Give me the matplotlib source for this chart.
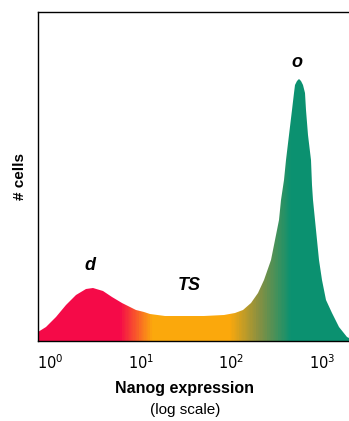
import matplotlib
matplotlib.use('Agg')
import matplotlib.pyplot as plt
import numpy as np
from matplotlib.colors import LinearSegmentedColormap

plt.rcParams['font.family'] = ['Liberation Sans', 'DejaVu Sans']

# density curve: log10(Nanog expression) vs # cells (arbitrary units)
log_expr = [-0.132, -0.044, 0.066, 0.176, 0.286, 0.396, 0.469, 0.579, 0.689, 0.799,
            0.945, 1.036, 1.099, 1.264, 1.484, 1.703, 1.923, 2.044, 2.124, 2.216,
            2.289, 2.363, 2.436, 2.484, 2.520, 2.546, 2.575, 2.601, 2.630, 2.663,
            2.685, 2.700, 2.722, 2.747, 2.773, 2.794, 2.810, 2.827, 2.849, 2.876,
            2.893, 2.901, 2.923, 2.945, 2.967, 2.997, 3.047, 3.107, 3.187, 3.278,
            3.297]
cells = [2.83, 4.35, 7.39, 10.94, 13.98, 15.71, 16.02, 15.29, 13.47, 11.46,
         9.42, 8.72, 8.36, 7.75, 7.60, 7.60, 7.90, 8.51, 9.42, 11.55,
         14.59, 18.54, 24.62, 30.70, 36.78, 42.86, 48.94, 55.02, 62.61, 70.21,
         75.29, 77.81, 79.12, 79.64, 79.12, 77.81, 75.29, 70.21, 62.61, 55.02,
         47.42, 42.86, 36.78, 30.70, 24.62, 18.54, 12.46, 8.51, 4.26, 1.22,
         0.91]

tick_vals = [1, 10, 100, 1000]
tick_labels = ['$10^0$', '$10^1$', '$10^2$', '$10^3$']

state_labels = ['d', 'TS', 'o']
state_x = [2.75, 34.5, 531]
state_y = [22.8, 17.0, 84.8]

# colour stops along log10(x): red -> orange -> green
grad_pos = [-0.14, 0.77, 1.13, 1.98, 2.30, 2.66, 3.30]
grad_col = ['#f50a48', '#f50a48', '#fba80c', '#fba80c', '#8a9040', '#0b9170', '#0b9170']

x = 10 ** np.array(log_expr)
y = np.array(cells)

fig = plt.figure(figsize=(3.49, 4.21), dpi=100)
ax = fig.add_axes([0.109, 0.19, 0.891, 0.7815])
ax.set_xscale('log')
lo, hi = 10 ** -0.132, 10 ** 3.297
ax.set_xlim(lo, hi)
ax.set_ylim(0, 100)

# gradient filled under the curve
poly = ax.fill_between(x, 0, y, color='none', lw=0)
stops = [(p - grad_pos[0]) / (grad_pos[-1] - grad_pos[0]) for p in grad_pos]
cmap = LinearSegmentedColormap.from_list('nanog', list(zip(stops, grad_col)))
edges = np.linspace(grad_pos[0], grad_pos[-1], 401)
mids = (edges[:-1] + edges[1:]) / 2
mesh = ax.pcolormesh(10 ** edges, [0, 100], mids[np.newaxis, :], cmap=cmap,
                     vmin=grad_pos[0], vmax=grad_pos[-1], shading='flat')
path = poly.get_paths()[0]
mesh.set_clip_path(path, ax.transData)

for lab, lx, ly in zip(state_labels, state_x, state_y):
    ax.text(lx, ly, lab, ha='center', va='center', fontsize=13,
            fontweight='bold', fontstyle='italic')

ax.set_xticks(tick_vals)
ax.set_xticklabels(tick_labels)
ax.minorticks_off()
ax.tick_params(axis='x', length=0, pad=9, labelsize=10.5)
ax.set_yticks([])
ax.spines['right'].set_visible(False)
for s in ['left', 'top', 'bottom']:
    ax.spines[s].set_linewidth(1.0)

ax.set_ylabel('# cells', fontsize=11, fontweight='bold', labelpad=8)
fig.text(0.53, 0.078, 'Nanog expression', ha='center', va='center',
         fontsize=11.5, fontweight='bold')
fig.text(0.53, 0.026, '(log scale)', ha='center', va='center', fontsize=11)

fig.savefig('out.png', dpi=100)
